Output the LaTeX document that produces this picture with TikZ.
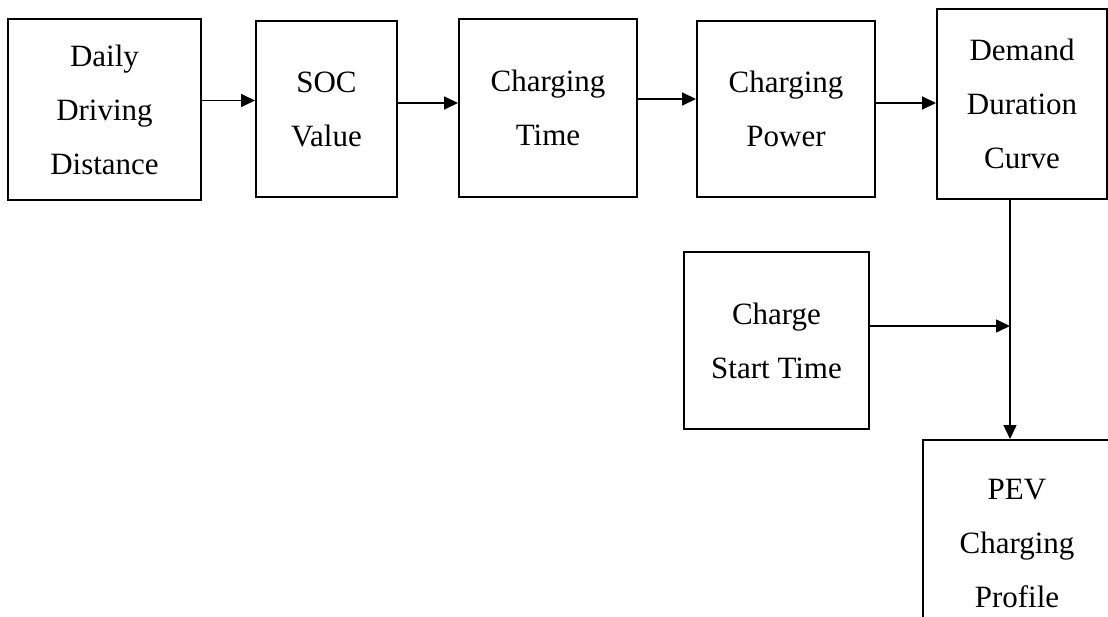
\documentclass[tikz,border=0pt]{standalone}
\usepackage{fontspec}
\setmainfont{Liberation Serif}
\usetikzlibrary{arrows.meta}
\tikzset{
  pev box/.style={draw=black, line width=2pt, align=center, inner sep=0pt, font=\fontsize{31}{54}\selectfont},
  pev arrow/.style={draw=black, line width=1.8pt, -{Triangle[length=14pt,width=13pt]}},
  pev feed/.style={draw=black, line width=1.5pt, -{Triangle[length=14pt,width=13pt]}},
}

\begin{document}
\begin{tikzpicture}[x=1pt,y=-1pt]
  \useasboundingbox (0,0) rectangle (1108,616);
  % Top row: from driving distance to the duration curve
  \node[pev box, minimum width=193pt, minimum height=181pt] (dist) at (104.5,109.5) {Daily\\Driving\\Distance};
  \node[pev box, minimum width=141pt, minimum height=176pt] (soc) at (326.5,109) {SOC\\Value};
  \node[pev box, minimum width=178pt, minimum height=178pt] (ctime) at (548,108) {Charging\\Time};
  \node[pev box, minimum width=178pt, minimum height=176pt] (cpower) at (786,109) {Charging\\Power};
  \node[pev box, minimum width=170pt, minimum height=190pt] (ddc) at (1022,104) {Demand\\Duration\\Curve};
  % Start time input and the resulting profile
  \node[pev box, minimum width=185pt, minimum height=177pt] (start) at (776.5,340.5) {Charge\\Start Time};
  \node[pev box, minimum width=188pt, minimum height=206pt] (pev) at (1017,543) {PEV\\Charging\\Profile};
  \coordinate (jn) at (1010,326);
  % Row arrows
  \draw[pev arrow] ([yshift=9pt]dist.east) coordinate (a1) -- (a1 -| soc.west);
  \draw[pev arrow] ([yshift=6pt]soc.east) coordinate (a2) -- (a2 -| ctime.west);
  \draw[pev arrow] ([yshift=9pt]ctime.east) coordinate (a3) -- (a3 -| cpower.west);
  \draw[pev arrow] ([yshift=6pt]cpower.east) coordinate (a4) -- (a4 -| ddc.west);
  % Merge into the profile
  \draw[pev feed] (ddc.south -| jn) -- (pev.north -| jn);
  \draw[pev feed] (start.east |- jn) -- (jn);
\end{tikzpicture}
\end{document}
